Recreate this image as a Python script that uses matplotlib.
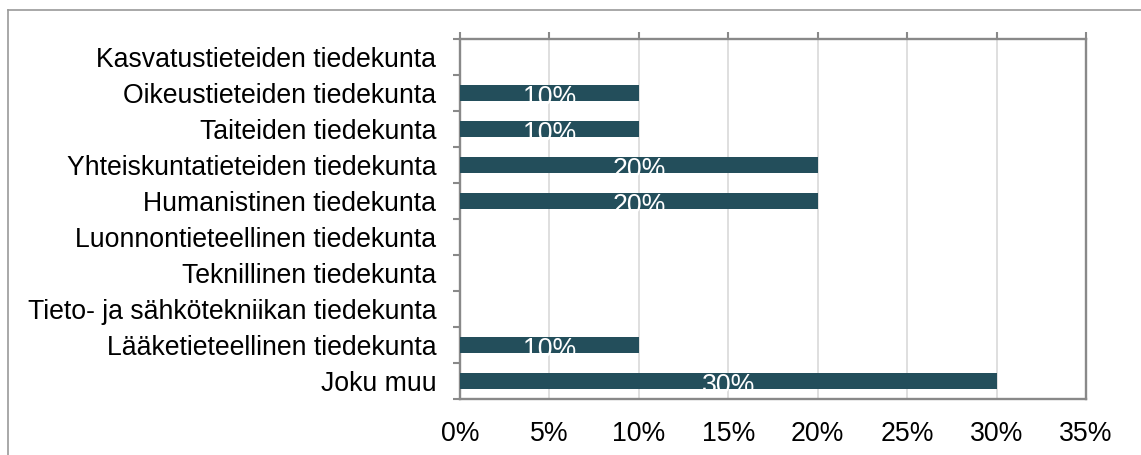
#!/usr/bin/env python3
"""Horizontal bar chart of faculty shares"""

import numpy as np
import matplotlib
matplotlib.use("Agg")
import matplotlib.pyplot as plt
from matplotlib.lines import Line2D
from matplotlib.ticker import FixedLocator, PercentFormatter

# Data, top to bottom as shown
categories = [
    "Kasvatustieteiden tiedekunta",
    "Oikeustieteiden tiedekunta",
    "Taiteiden tiedekunta",
    "Yhteiskuntatieteiden tiedekunta",
    "Humanistinen tiedekunta",
    "Luonnontieteellinen tiedekunta",
    "Teknillinen tiedekunta",
    "Tieto- ja sähkötekniikan tiedekunta",
    "Lääketieteellinen tiedekunta",
    "Joku muu",
]
shares = [0, 10, 10, 20, 20, 0, 0, 0, 10, 30]
x_ticks = [0, 5, 10, 15, 20, 25, 30, 35]

BAR_COLOR = "#234e5b"
SPINE_COLOR = "#898989"
GRID_COLOR = "#d9d9d9"
FS = 19.2

plt.rcParams["font.family"] = ["Liberation Sans", "DejaVu Sans"]

fig = plt.figure(figsize=(11.41, 4.55), dpi=100)
ax = fig.add_axes([460 / 1141, 56 / 455, 626 / 1141, 360 / 455])

y = np.arange(len(categories))
h = 0.42
bars = ax.barh(y, shares, height=h, color=BAR_COLOR, zorder=3)

# value labels, white, clipped to the bar
for bar, v, yi in zip(bars, shares, y):
    if v == 0:
        continue
    t = ax.text(v / 2, yi - h / 2, f"{v}%", ha="center", va="top",
                color="white", fontsize=FS, zorder=4)
    t.set_clip_path(bar)

ax.set_xlim(0, 35)
ax.set_ylim(len(categories) - 0.5, -0.5)

ax.set_xticks(x_ticks)
ax.xaxis.set_major_formatter(PercentFormatter(decimals=0))
ax.tick_params(axis="x", top=True, bottom=False, labelbottom=True,
               direction="out", length=5, width=1.5, color=SPINE_COLOR,
               labelsize=FS, pad=11)
ax.grid(axis="x", color=GRID_COLOR, linewidth=1.2, zorder=0)

ax.set_yticks(y)
ax.set_yticklabels(categories)
ax.yaxis.set_minor_locator(FixedLocator(np.arange(-0.5, len(categories), 1)))
ax.tick_params(axis="y", which="major", length=0, labelsize=FS, pad=17)
ax.tick_params(axis="y", which="minor", direction="out", length=5,
               width=1.5, color=SPINE_COLOR)

for s in ax.spines.values():
    s.set_color(SPINE_COLOR)
    s.set_linewidth(1.7)

# outer chart border (top and left edges visible)
fig.add_artist(Line2D([8 / 1141, 1.0], [1 - 10 / 455, 1 - 10 / 455],
                      transform=fig.transFigure, color="#9a9a9a", linewidth=1.2))
fig.add_artist(Line2D([8 / 1141, 8 / 1141], [0.0, 1 - 10 / 455],
                      transform=fig.transFigure, color="#9a9a9a", linewidth=1.2))

fig.savefig("out.png", dpi=100)
